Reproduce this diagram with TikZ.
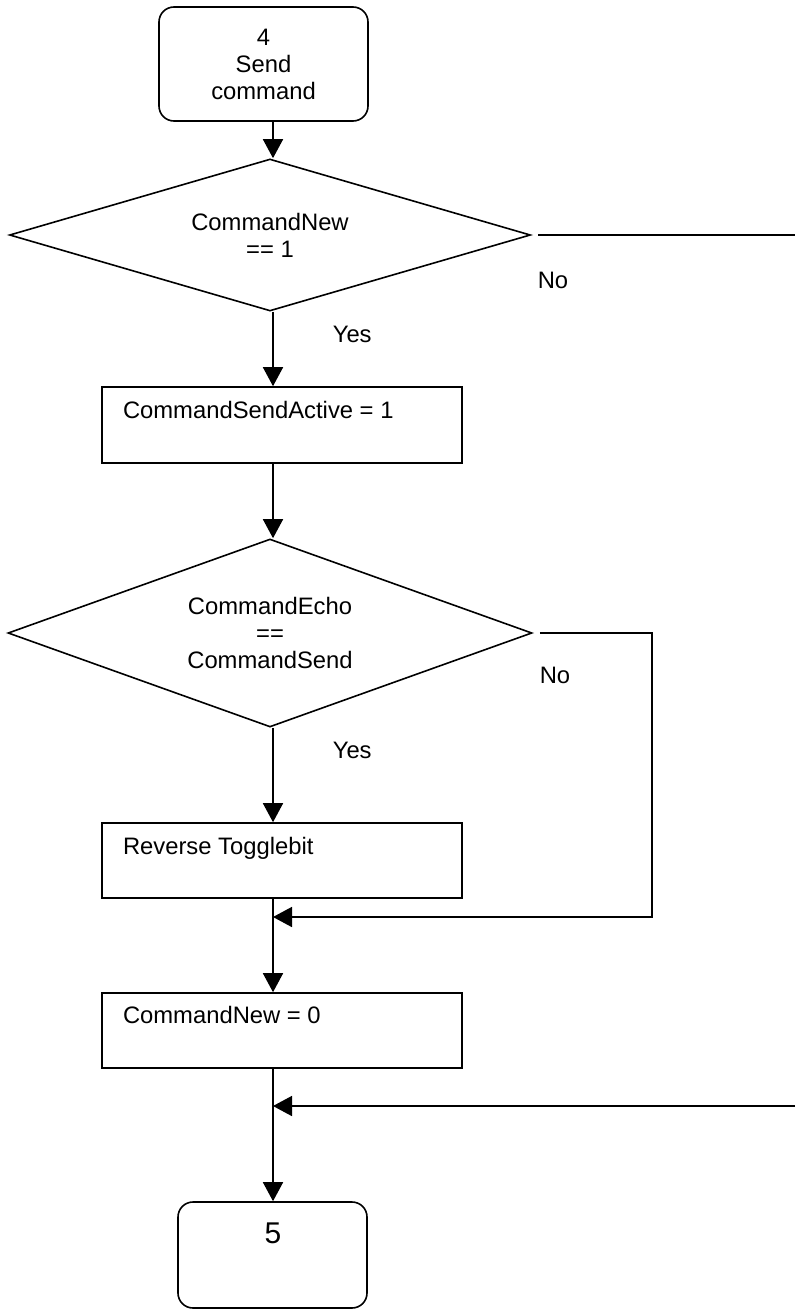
\documentclass[tikz,border=0pt]{standalone}
\usepackage{fontspec}
\setmainfont{Liberation Sans}
\usetikzlibrary{shapes.geometric,arrows.meta,calc}
\begin{document}
\begin{tikzpicture}[x=1pt,y=-1pt,line width=1.6pt,
  every node/.style={font=\fontsize{23.8}{27}\selectfont},
  termbox/.style={draw,rounded corners=15pt,inner sep=0pt},
  procbox/.style={draw,minimum width=360pt,minimum height=76pt,inner sep=0pt},
  decbox/.style={draw,diamond,inner sep=0pt,align=center,aspect=3},
  lbl/.style={inner sep=0pt},
  arr/.style={-{Triangle[length=19pt,width=20pt]}},
]
\useasboundingbox (0,0) rectangle (795,1311);
\coordinate (spine) at (273,0);
\coordinate (edge) at (795,0);
% nodes
\node[termbox,minimum width=209pt,minimum height=114pt,align=center] (n4) at (263.5,64) {4\\Send\\command};
\node[decbox,minimum width=521pt,minimum height=152pt] (d1) at (270,235) {CommandNew\\== 1};
\node[procbox] (b2) at (282,425) {};
\node[decbox,minimum width=524pt,minimum height=188pt] (d2) at (270,633) {CommandEcho\\==\\CommandSend};
\node[procbox,minimum height=75pt] (b3) at (282,860.5) {};
\node[procbox,minimum height=75pt] (b4) at (282,1030.5) {};
\node[termbox,minimum width=189pt,minimum height=106pt] (n5) at (272.5,1255) {};
% texts
\node[lbl,anchor=base west] (t2) at ($(b2.north west)+(21,32)$) {CommandSendActive = 1};
\node[lbl,anchor=base west] (t3) at ($(b3.north west)+(21,32)$) {Reverse Togglebit};
\node[lbl,anchor=base west] (t4) at ($(b4.north west)+(21,31)$) {CommandNew = 0};
\node[lbl,anchor=base] (t5) at ($(n5.north)+(0.5,42)$) {\fontsize{30}{34}\selectfont 5};
\node[lbl,anchor=base west] (no1) at (537,288) {No};
\node[lbl,anchor=base west] (no2) at (539,683) {No};
\node[lbl,anchor=base west] (yes1) at (332,342) {Yes};
\node[lbl,anchor=base west] (yes2) at (332,758) {Yes};
% junction coordinates
\coordinate (j1) at (273,917);
\coordinate (j2) at (273,1106);
\coordinate (r2) at (652,917);
% connectors
\draw[arr] (n4.south -| spine) -- (d1.north -| spine);
\draw[arr] (d1.south -| spine) -- (b2.north -| spine);
\draw[arr] (b2.south -| spine) -- (d2.north -| spine);
\draw[arr] (d2.south -| spine) -- (b3.north -| spine);
\draw[arr] (b3.south -| spine) -- (b4.north -| spine);
\draw[arr] (b4.south -| spine) -- (n5.north -| spine);
\draw ([xshift=7pt]d1.east) -- (d1.east -| edge);
\draw[arr] ([xshift=7pt]d2.east) -| (r2) -- (j1);
\draw[arr] (j2 -| edge) -- (j2);
\end{tikzpicture}
\end{document}
